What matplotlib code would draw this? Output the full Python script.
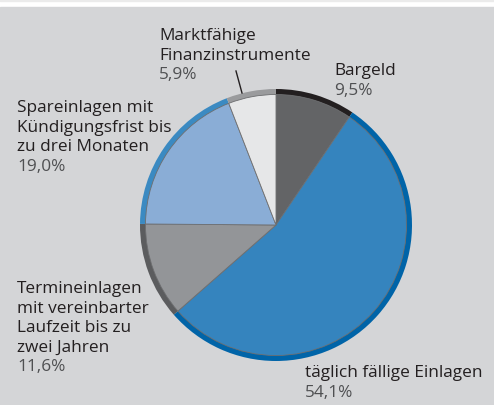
import matplotlib.pyplot as plt
from matplotlib.patches import Rectangle

# Anteile, im Uhrzeigersinn ab 12 Uhr
labels = ["Bargeld", "täglich fällige Einlagen",
          "Termineinlagen\nmit vereinbarter\nLaufzeit bis zu\nzwei Jahren",
          "Spareinlagen mit\nKündigungsfrist bis\nzu drei Monaten",
          "Marktfähige\nFinanzinstrumente"]
values = [9.5, 54.1, 11.6, 19.0, 5.9]
pct_text = ["9,5%", "54,1%", "11,6%", "19,0%", "5,9%"]

fill_colors = ["#636466", "#3584be", "#939598", "#8aadd6", "#e6e7e8"]
ring_colors = ["#231f20", "#0064a8", "#5b5c5e", "#3b8ac2", "#9a9b9d"]

W, H = 494, 406
fig = plt.figure(figsize=(W / 100, H / 100), dpi=100)
fig.patch.set_facecolor("white")
ax = fig.add_axes([0, 0, 1, 1])

# Hintergrund
ax.add_patch(Rectangle((0, 0), W, H - 8, color="#d4d5d7", zorder=0))
ax.add_patch(Rectangle((0, H - 2), W, 2, color="#ebebeb", zorder=0))

cx, cy, R, ring = 276, H - 226, 136, 6

ax.pie(values, colors=ring_colors, startangle=90, counterclock=False,
       center=(cx, cy), radius=R, frame=True,
       wedgeprops=dict(width=ring, linewidth=0))
ax.pie(values, colors=fill_colors, startangle=90, counterclock=False,
       center=(cx, cy), radius=R - ring + 0.5, frame=True,
       wedgeprops=dict(linewidth=0.6, edgecolor="#6d6e70"))
ax.set_xlim(0, W)
ax.set_ylim(0, H)
ax.set_aspect("auto")
ax.axis("off")

# Beschriftungen: (x, Grundlinie der ersten Zeile)
pos = [(334, 75), (305, 377), (17, 293), (17, 112), (159, 40)]
fam = ["Open Sans", "DejaVu Sans"]
fs = 12.4
lh = 19.6
for lab, pc, (x, y) in zip(labels, pct_text, pos):
    lines = lab.split("\n")
    for i, ln in enumerate(lines):
        ax.text(x, H - y - i * lh, ln, fontsize=fs, family=fam,
                color="#231f20", va="baseline", ha="left", weight=500)
    ax.text(x, H - y - len(lines) * lh, pc, fontsize=fs, family=fam,
            color="#4f5052", va="baseline", ha="left")

# Hinweislinie
ax.plot([236, 242], [H - 72, H - 94], color="#231f20", lw=1)

fig.savefig("out.png", dpi=100, facecolor=fig.get_facecolor())
